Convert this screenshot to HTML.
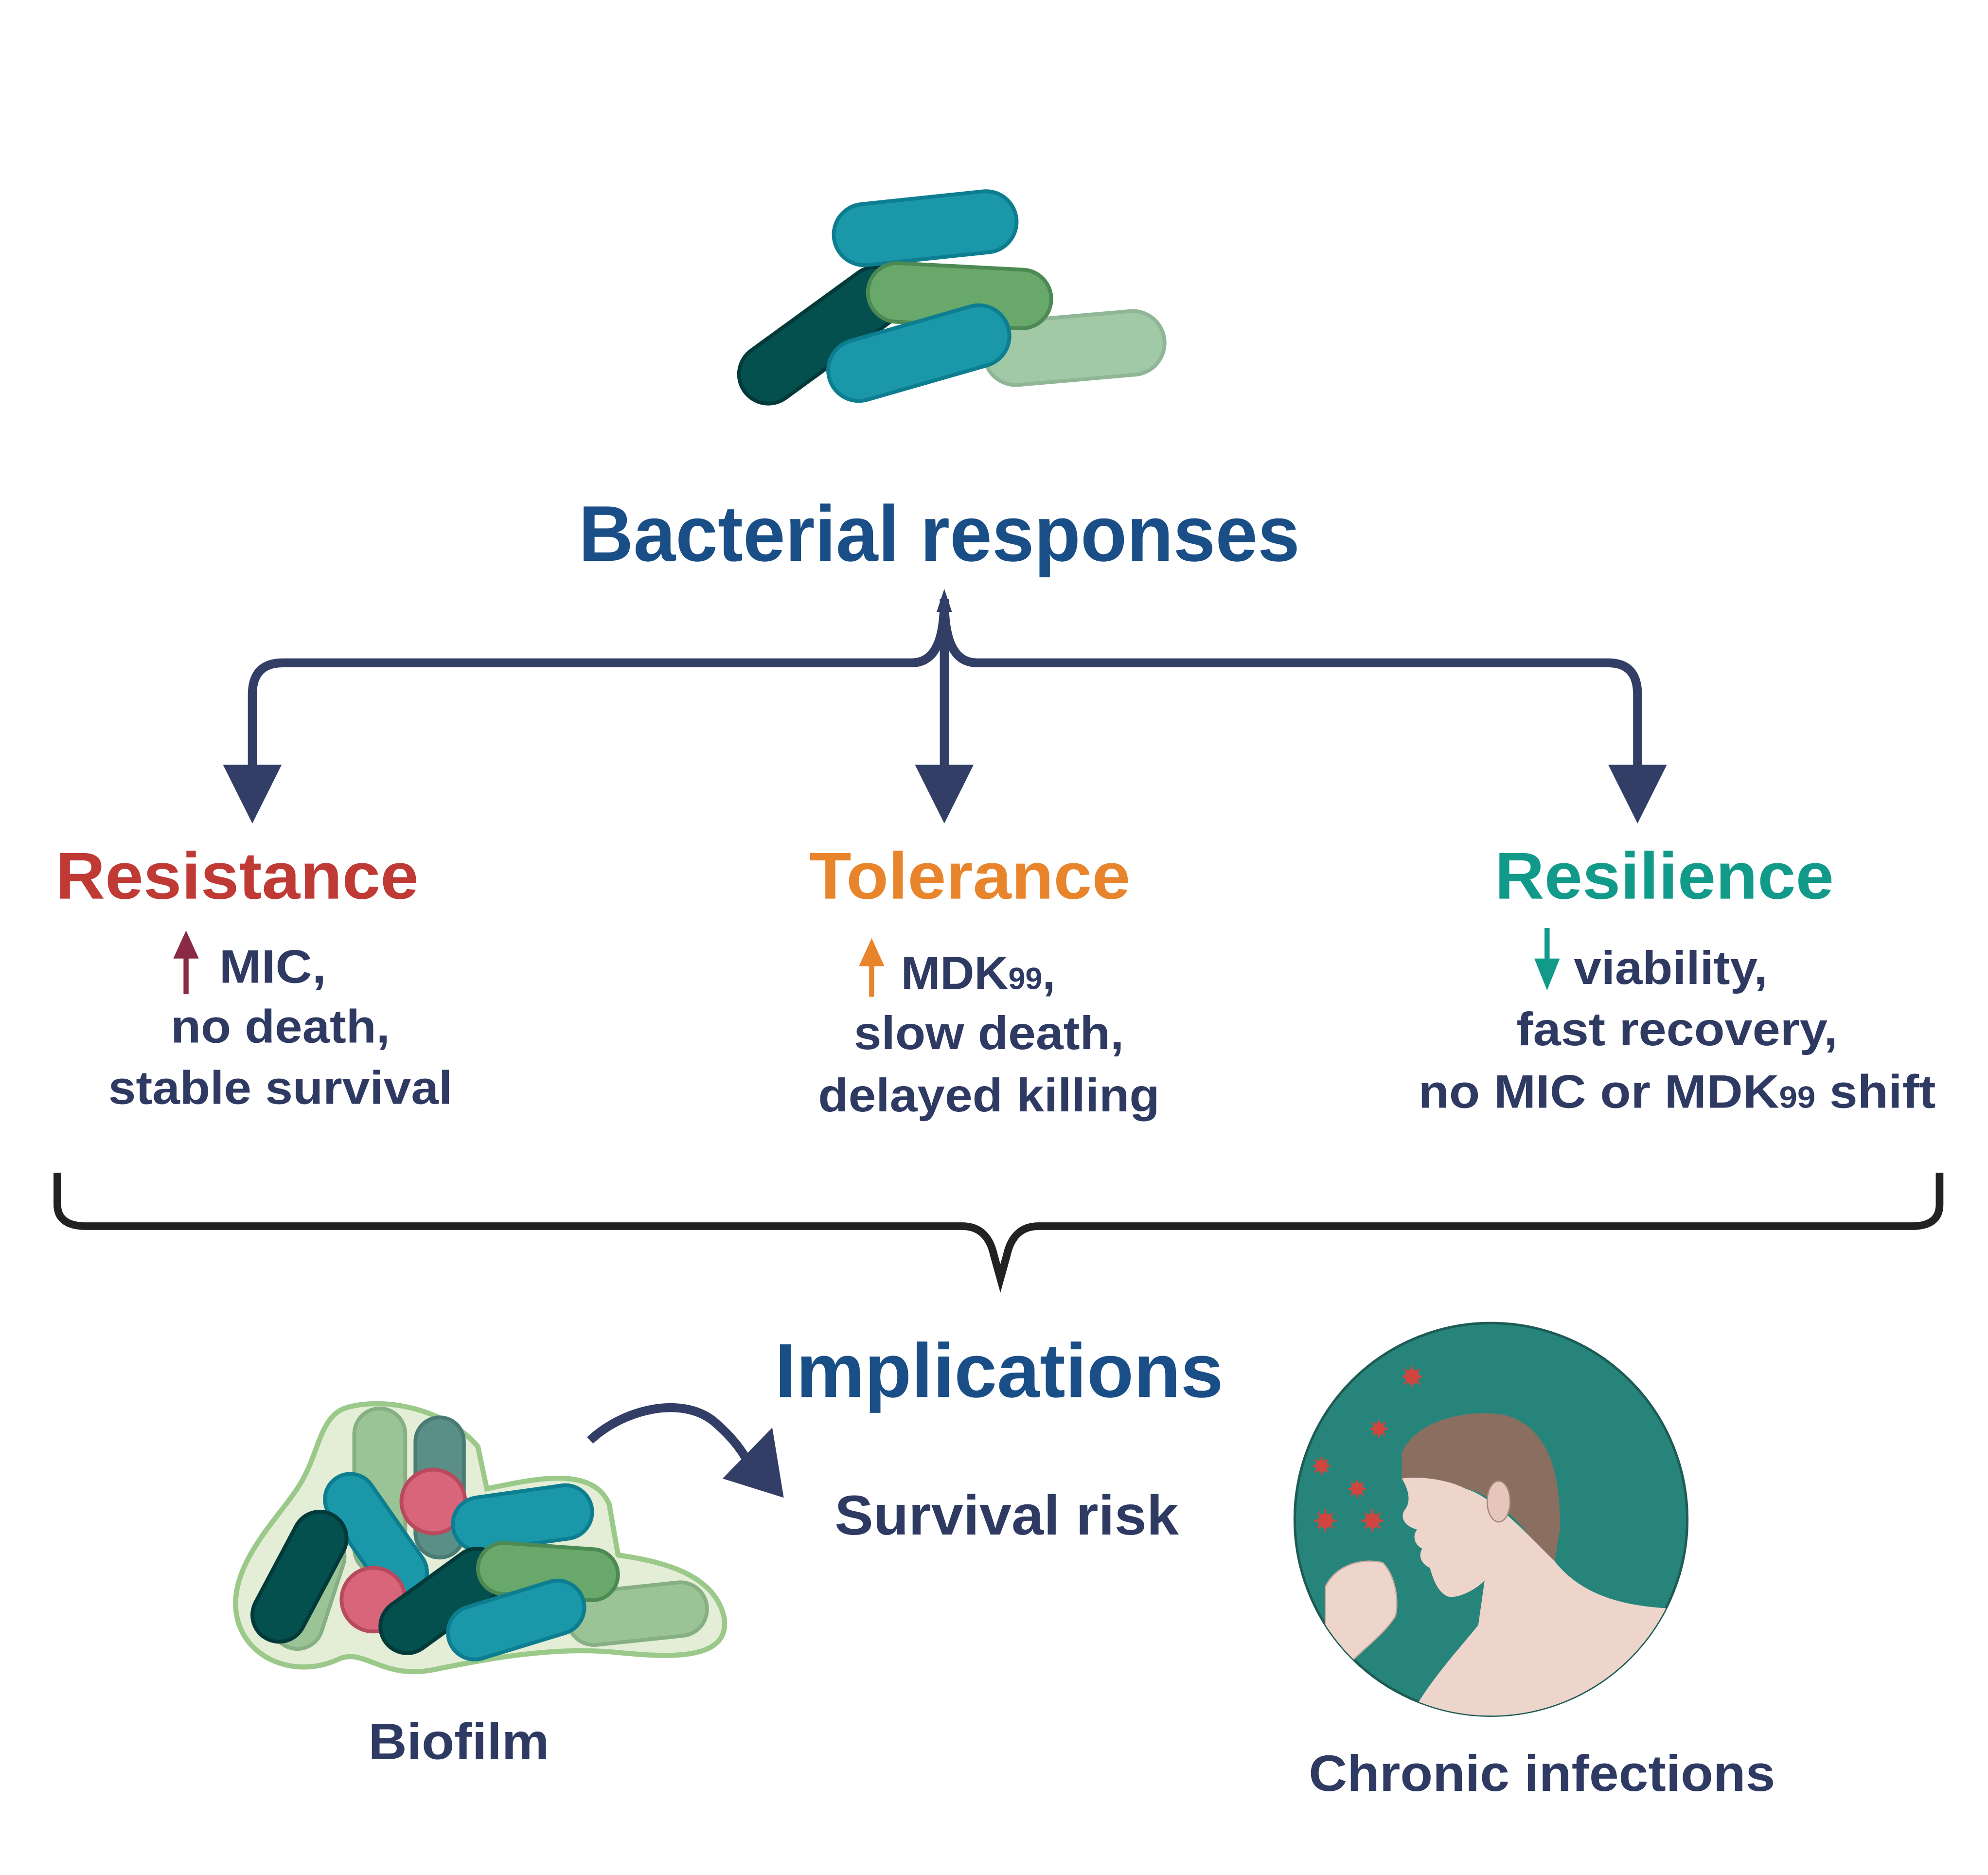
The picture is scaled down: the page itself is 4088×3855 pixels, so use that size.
<!DOCTYPE html>
<html><head><meta charset="utf-8"><style>
html,body{margin:0;padding:0;background:#fff}
svg{display:block}
text{font-family:"Liberation Sans",sans-serif;font-weight:bold}
</style></head><body>
<svg width="4088" height="3855" viewBox="0 0 1560 1471" xmlns="http://www.w3.org/2000/svg">
<rect width="1560" height="1471" fill="#fff"/>
<g stroke-width="3">
<rect x="570" y="240" width="150" height="46" rx="23" transform="rotate(-36 645 263)" fill="#03504f" stroke="#023a3a"/>
<rect x="772" y="248" width="142" height="50" rx="25" transform="rotate(-5 843 273)" fill="#a2c9a6" stroke="#8fb797"/>
<rect x="654" y="155" width="144" height="48" rx="24" transform="rotate(-6 726 179)" fill="#1a97a8" stroke="#0d7e90"/>
<rect x="681" y="209" width="144" height="46" rx="23" transform="rotate(3 753 232)" fill="#68a86b" stroke="#4d8a53"/>
<rect x="648" y="253" width="146" height="48" rx="24" transform="rotate(-16 721 277)" fill="#1a97a8" stroke="#0d7e90"/>
</g>
<text x="737" y="440" font-size="62" fill="#1a4e86" text-anchor="middle" textLength="566" lengthAdjust="spacingAndGlyphs">Bacterial responses</text>
<g fill="none" stroke="#323e66" stroke-width="7">
<path d="M741,470 C741,500 735,520 715,520 L222,520 Q198,520 198,545 L198,605"/>
<path d="M741,470 C741,500 747,520 767,520 L1262,520 Q1285,520 1285,545 L1285,605"/>
<path d="M741,470 L741,605"/>
</g>
<path d="M741,462 L735,480 L747,480 Z" fill="#323e66"/>
<g fill="#323e66">
<path d="M175,600 L221,600 L198,646 Z"/>
<path d="M718,600 L764,600 L741,646 Z"/>
<path d="M1262,600 L1308,600 L1285,646 Z"/>
</g>
<text x="186" y="705" font-size="52" fill="#c03a35" text-anchor="middle" textLength="285" lengthAdjust="spacingAndGlyphs">Resistance</text>
<text x="761" y="705" font-size="52" fill="#e8852c" text-anchor="middle" textLength="252" lengthAdjust="spacingAndGlyphs">Tolerance</text>
<text x="1306" y="705" font-size="52" fill="#119a8a" text-anchor="middle" textLength="266" lengthAdjust="spacingAndGlyphs">Resilience</text>
<g font-size="37" fill="#2f3a63" text-anchor="middle">
<text x="214" y="771" textLength="84" lengthAdjust="spacingAndGlyphs">MIC,</text>
<text x="220" y="818" textLength="172" lengthAdjust="spacingAndGlyphs">no death,</text>
<text x="220" y="866" textLength="270" lengthAdjust="spacingAndGlyphs">stable survival</text>
<text x="776" y="823" textLength="212" lengthAdjust="spacingAndGlyphs">slow death,</text>
<text x="776" y="872" textLength="268" lengthAdjust="spacingAndGlyphs">delayed killing</text>
<text x="1316" y="820" textLength="252" lengthAdjust="spacingAndGlyphs">fast recovery,</text>
<text x="1311" y="772" textLength="152" lengthAdjust="spacingAndGlyphs">viability,</text>
</g>
<text x="707" y="776" font-size="37" fill="#2f3a63">MDK<tspan font-size="24">99</tspan>,</text>
<text x="1113" y="869" font-size="37" fill="#2f3a63" textLength="406" lengthAdjust="spacingAndGlyphs">no MIC or MDK<tspan font-size="24">99</tspan> shift</text>
<path d="M146,780 L146,745" stroke="#8a2a45" stroke-width="4"/><path d="M136,752 L146,730 L156,752 Z" fill="#8a2a45"/>
<path d="M684,782 L684,750" stroke="#e8852c" stroke-width="4"/><path d="M674,758 L684,736 L694,758 Z" fill="#e8852c"/>
<path d="M1214,728 L1214,760" stroke="#119a8a" stroke-width="4"/><path d="M1204,752 L1214,777 L1224,752 Z" fill="#119a8a"/>
<path d="M45,920 L45,945 Q45,962 68,962 L755,962 Q775,962 780,985 L785,1003 L790,985 Q795,962 815,962 L1500,962 Q1522,962 1522,945 L1522,920" fill="none" stroke="#222" stroke-width="6"/>
<text x="784" y="1096" font-size="60" fill="#1a4e86" text-anchor="middle" textLength="352" lengthAdjust="spacingAndGlyphs">Implications</text>
<text x="790" y="1204" font-size="44" fill="#2f3a63" text-anchor="middle" textLength="270" lengthAdjust="spacingAndGlyphs">Survival risk</text>
<path d="M463,1130 C490,1105 535,1095 560,1115 C575,1128 585,1140 592,1158" fill="none" stroke="#323e66" stroke-width="7"/>
<path d="M567,1160 L606,1120 L615,1175 Z" fill="#323e66"/>
<path d="M270,1105 C300,1095 350,1105 375,1135 L382,1168 C420,1160 465,1150 478,1180 L485,1220 C520,1225 560,1235 568,1268 C575,1305 520,1300 480,1296 C430,1292 380,1302 340,1310 C300,1318 285,1292 265,1302 C230,1318 188,1300 185,1262 C182,1222 225,1185 238,1160 C250,1138 252,1112 270,1105 Z" fill="#e4eed6" stroke="#9bc98a" stroke-width="4"/>
<g stroke-width="3">
<rect x="278" y="1105" width="40" height="130" rx="20" fill="#9bc496" stroke="#86b084"/>
<rect x="326" y="1112" width="38" height="110" rx="19" fill="#5a8f88" stroke="#4a7a74"/>
<rect x="222" y="1200" width="40" height="95" rx="20" transform="rotate(18 242 1247)" fill="#9bc496" stroke="#86b084"/>
<rect x="275" y="1150" width="40" height="110" rx="20" transform="rotate(-35 295 1205)" fill="#1a97a8" stroke="#0d7e90"/>
<rect x="214" y="1182" width="42" height="110" rx="21" transform="rotate(28 235 1237)" fill="#03504f" stroke="#023a3a"/>
<rect x="445" y="1245" width="110" height="42" rx="21" transform="rotate(-6 500 1266)" fill="#9bc496" stroke="#86b084"/>
<circle cx="340" cy="1178" r="25" fill="#d9657a" stroke="#b84a5e"/>
<rect x="355" y="1170" width="110" height="42" rx="21" transform="rotate(-8 410 1191)" fill="#1a97a8" stroke="#0d7e90"/>
<circle cx="293" cy="1255" r="25" fill="#d9657a" stroke="#b84a5e"/>
<rect x="292" y="1235" width="110" height="42" rx="21" transform="rotate(-36 347 1256)" fill="#03504f" stroke="#023a3a"/>
<rect x="375" y="1213" width="110" height="40" rx="20" transform="rotate(4 430 1233)" fill="#68a86b" stroke="#4d8a53"/>
<rect x="350" y="1250" width="110" height="42" rx="21" transform="rotate(-17 405 1271)" fill="#1a97a8" stroke="#0d7e90"/>
</g>
<text x="360" y="1380" font-size="40" fill="#2f3a63" text-anchor="middle" textLength="142" lengthAdjust="spacingAndGlyphs">Biofilm</text>
<defs><clipPath id="c"><circle cx="1170" cy="1192" r="154"/></clipPath></defs>
<circle cx="1170" cy="1192" r="154" fill="#27847a" stroke="#1d5c55" stroke-width="2"/>
<g clip-path="url(#c)">
<path d="M1100,1140 C1110,1115 1150,1105 1180,1110 C1212,1118 1225,1150 1224,1200 L1220,1225 L1200,1205 C1185,1185 1165,1170 1150,1168 C1130,1162 1110,1160 1100,1160 Z" fill="#8a6f60"/>
<path d="M1100,1160 C1112,1158 1135,1160 1150,1168 C1165,1172 1185,1190 1200,1205 L1220,1225 C1240,1250 1270,1260 1312,1262 L1330,1380 L1090,1380 C1110,1330 1140,1300 1160,1275 L1165,1240 C1155,1250 1140,1255 1135,1252 C1128,1248 1125,1240 1122,1230 C1117,1228 1112,1222 1116,1215 C1110,1212 1108,1205 1112,1200 C1104,1198 1098,1192 1102,1185 C1108,1178 1105,1168 1100,1160 Z" fill="#edd5cc"/>
<path d="M1040,1245 C1048,1228 1068,1222 1085,1226 C1095,1236 1098,1256 1095,1268 C1086,1282 1072,1292 1062,1302 L1040,1315 Z" fill="#edd5cc" stroke="#c9a89b" stroke-width="1"/>
<ellipse cx="1176" cy="1178" rx="9" ry="16" fill="#e6c6ba" stroke="#a88878"/>
</g>
<g fill="#d0463e" stroke="#d0463e" stroke-width="1.5">
<g transform="translate(1108,1080)"><circle r="5"/><path d="M-8,0H8M0,-8V8M-6,-6L6,6M-6,6L6,-6"/></g>
<g transform="translate(1082,1121)"><circle r="4"/><path d="M-7,0H7M0,-7V7M-5,-5L5,5M-5,5L5,-5"/></g>
<g transform="translate(1037,1150)"><circle r="4"/><path d="M-7,0H7M0,-7V7M-5,-5L5,5M-5,5L5,-5"/></g>
<g transform="translate(1065,1168)"><circle r="4"/><path d="M-7,0H7M0,-7V7M-5,-5L5,5M-5,5L5,-5"/></g>
<g transform="translate(1040,1193)"><circle r="5"/><path d="M-9,0H9M0,-9V9M-6,-6L6,6M-6,6L6,-6"/></g>
<g transform="translate(1077,1193)"><circle r="5"/><path d="M-9,0H9M0,-9V9M-6,-6L6,6M-6,6L6,-6"/></g>
</g>
<text x="1210" y="1405" font-size="40" fill="#2f3a63" text-anchor="middle" textLength="366" lengthAdjust="spacingAndGlyphs">Chronic infections</text>
</svg>
</body></html>
